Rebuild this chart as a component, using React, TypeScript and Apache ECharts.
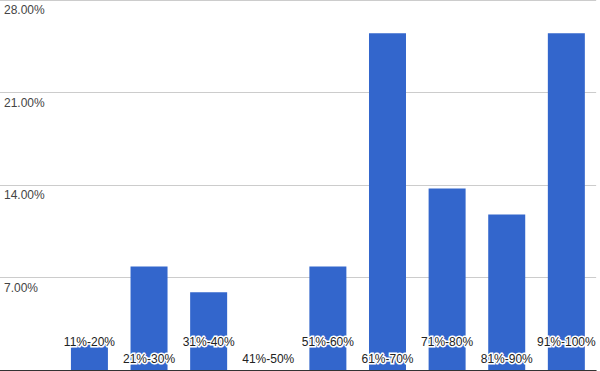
import React, { useEffect, useRef } from "react";
import * as echarts from "echarts";

const categories = ["", "11%-20%", "21%-30%", "31%-40%", "41%-50%", "51%-60%", "61%-70%", "71%-80%", "81%-90%", "91%-100%"];
const values = [0, 1.96, 7.84, 5.88, 0, 7.84, 25.49, 13.73, 11.76, 25.49];
const yMax = 28;
const yStep = 7;

const FONT = 'Arial, "Liberation Sans", sans-serif';

export default function App() {
  const ref = useRef<HTMLDivElement>(null);
  useEffect(() => {
    document.body.style.margin = "0";
    const chart = echarts.init(ref.current!, null, { renderer: "svg" });
    chart.setOption({
      animation: false,
      grid: { left: 0, right: 0, top: 0, bottom: 1, containLabel: false },
      xAxis: {
        type: "category",
        data: categories,
        z: 10,
        axisLine: { show: true, lineStyle: { color: "#333", width: 1 } },
        axisTick: { show: false },
        axisLabel: {
          inside: true,
          interval: 0,
          margin: 3,
          verticalAlign: "bottom",
          color: "#222",
          fontSize: 12,
          fontFamily: FONT,
          lineHeight: 17,
          textBorderColor: "#fff",
          textBorderWidth: 3,
          formatter: (v: string, i: number) => (i % 2 === 1 ? v + "\n " : v),
        },
      },
      yAxis: {
        type: "value",
        min: 0,
        max: yMax,
        interval: yStep,
        axisLine: { show: false },
        axisTick: { show: false },
        splitLine: { show: true, lineStyle: { color: "#ccc", width: 1 } },
        axisLabel: {
          inside: true,
          margin: 4,
          showMinLabel: false,
          verticalAlign: "top",
          padding: [4, 0, 0, 0],
          color: "#444",
          fontSize: 12,
          fontFamily: FONT,
          formatter: (v: number) => v.toFixed(2) + "%",
        },
      },
      series: [
        {
          type: "bar",
          data: values,
          barWidth: 37,
          itemStyle: { color: "#3366cc" },
        },
      ],
    });
    return () => chart.dispose();
  }, []);
  return <div ref={ref} style={{ width: 600, height: 371 }} />;
}
